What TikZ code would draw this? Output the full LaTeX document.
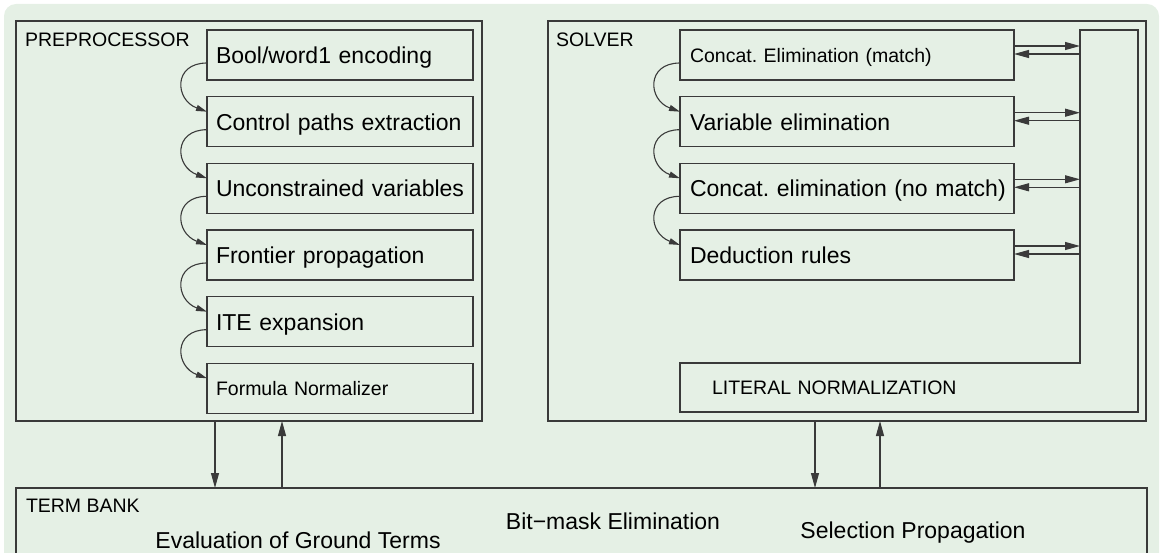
\documentclass[tikz,border=0pt]{standalone}
\usepackage{fontspec}
\setmainfont{Liberation Sans}
\usetikzlibrary{arrows.meta,positioning}
\definecolor{panelbg}{HTML}{E5F0E5}
\definecolor{ink}{HTML}{3A3A3A}
\frenchspacing

\begin{document}
\begin{tikzpicture}[x=1pt,y=1pt,
 every node/.style={font=\fontsize{23}{27}\selectfont,inner sep=0pt,outer sep=0pt,text depth=0pt},
 small/.style={font=\fontsize{19.5}{23}\selectfont},
 panel/.style={draw=ink,line width=1.1pt},
 stage/.style={draw=ink,line width=1.1pt,minimum height=50pt,inner xsep=7pt,align=left},
 head/.style={anchor=west,font=\fontsize{19.5}{23}\selectfont},
 flow/.style={-{Triangle[length=15pt,width=8pt]},line width=1.1pt,draw=ink},
 hop/.style={-{Triangle[length=11pt,width=6pt]},line width=1.1pt,draw=ink}]

\useasboundingbox (0,0) rectangle (1160,-553);
\clip (0,0) rectangle (1160,-553);
\fill[panelbg,rounded corners=12pt] (4,-4) rectangle (1159,-600);

\node[panel,minimum width=466pt,minimum height=400pt] (pre) at (249,-221) {};
\node[head] (pretitle) at (25,-40) {PREPROCESSOR};
\node[stage,text width=252pt] (bool) at (340,-55) {\hspace{2pt}Bool/word1 encoding};
\node[stage,text width=252pt] (paths) at (340,-121.7) {\hspace{2pt}Control paths extraction};
\node[stage,text width=252pt] (uncons) at (340,-188.3) {\hspace{2pt}Unconstrained variables};
\node[stage,text width=252pt] (frontier) at (340,-255) {\hspace{2pt}Frontier propagation};
\node[stage,text width=252pt] (ite) at (340,-321.7) {\hspace{2pt}ITE expansion};
\node[stage,small,text width=252pt] (formula) at (340,-388.3) {\hspace{2pt}Formula Normalizer};
\draw[hop] ([yshift=-8pt]bool.west) to[out=180,in=160,looseness=1.8] ([yshift=10pt]paths.west);
\draw[hop] ([yshift=-8pt]paths.west) to[out=180,in=160,looseness=1.8] ([yshift=10pt]uncons.west);
\draw[hop] ([yshift=-8pt]uncons.west) to[out=180,in=160,looseness=1.8] ([yshift=10pt]frontier.west);
\draw[hop] ([yshift=-8pt]frontier.west) to[out=180,in=160,looseness=1.8] ([yshift=10pt]ite.west);
\draw[hop] ([yshift=-8pt]ite.west) to[out=180,in=160,looseness=1.8] ([yshift=10pt]formula.west);

\node[panel,minimum width=598pt,minimum height=400pt] (solver) at (847,-221) {};
\node[head] (solvertitle) at (556,-40) {SOLVER};
\node[stage,small,text width=320pt] (cmatch) at (847,-55) {\hspace{3pt}Concat. Elimination (match)};
\node[stage,text width=320pt] (varelim) at (847,-121.7) {\hspace{3pt}Variable elimination};
\node[stage,text width=320pt] (cnomatch) at (847,-188.3) {\hspace{3pt}Concat. elimination (no match)};
\node[stage,text width=320pt] (deduct) at (847,-255) {\hspace{3pt}Deduction rules};
\draw[hop] ([yshift=-8pt]cmatch.west) to[out=180,in=160,looseness=1.8] ([yshift=10pt]varelim.west);
\draw[hop] ([yshift=-8pt]varelim.west) to[out=180,in=160,looseness=1.8] ([yshift=10pt]cnomatch.west);
\draw[hop] ([yshift=-8pt]cnomatch.west) to[out=180,in=160,looseness=1.8] ([yshift=10pt]deduct.west);

\node[minimum width=58pt,minimum height=333pt] (col) at (1109,-196.5) {};
\node[small,text width=394pt,inner xsep=32pt,minimum height=49pt,align=left] (litnorm) at (909,-387.5) {LITERAL NORMALIZATION};
\draw[ink,line width=1.1pt] (col.north west) -- (col.north east) -- (litnorm.south east) -- (litnorm.south west) -- (litnorm.north west) -- (col.south west) -- cycle;
\draw[flow] ([yshift=9pt]cmatch.east) -- ([yshift=9pt]col.west |- cmatch.east);
\draw[flow] ([yshift=1pt]col.west |- cmatch.east) -- ([yshift=1pt]cmatch.east);
\draw[flow] ([yshift=9pt]varelim.east) -- ([yshift=9pt]col.west |- varelim.east);
\draw[flow] ([yshift=1pt]col.west |- varelim.east) -- ([yshift=1pt]varelim.east);
\draw[flow] ([yshift=9pt]cnomatch.east) -- ([yshift=9pt]col.west |- cnomatch.east);
\draw[flow] ([yshift=1pt]col.west |- cnomatch.east) -- ([yshift=1pt]cnomatch.east);
\draw[flow] ([yshift=9pt]deduct.east) -- ([yshift=9pt]col.west |- deduct.east);
\draw[flow] ([yshift=1pt]col.west |- deduct.east) -- ([yshift=1pt]deduct.east);

\node[panel,minimum width=1131pt,minimum height=120pt] (bank) at (581.5,-548) {};
\node[head] (banktitle) at (26,-506) {TERM BANK};
\node (ground) at (298,-540) {Evaluation of Ground Terms};
\node (bitmask) at (613,-521) {Bit−mask Elimination};
\node (selprop) at (913,-530) {Selection Propagation};
\draw[flow] ([xshift=-34pt]pre.south) -- ([xshift=-34pt]pre.south |- bank.north);
\draw[flow] ([xshift=33pt]pre.south |- bank.north) -- ([xshift=33pt]pre.south);
\draw[flow] ([xshift=-32pt]solver.south) -- ([xshift=-32pt]solver.south |- bank.north);
\draw[flow] ([xshift=33pt]solver.south |- bank.north) -- ([xshift=33pt]solver.south);
\end{tikzpicture}
\end{document}
